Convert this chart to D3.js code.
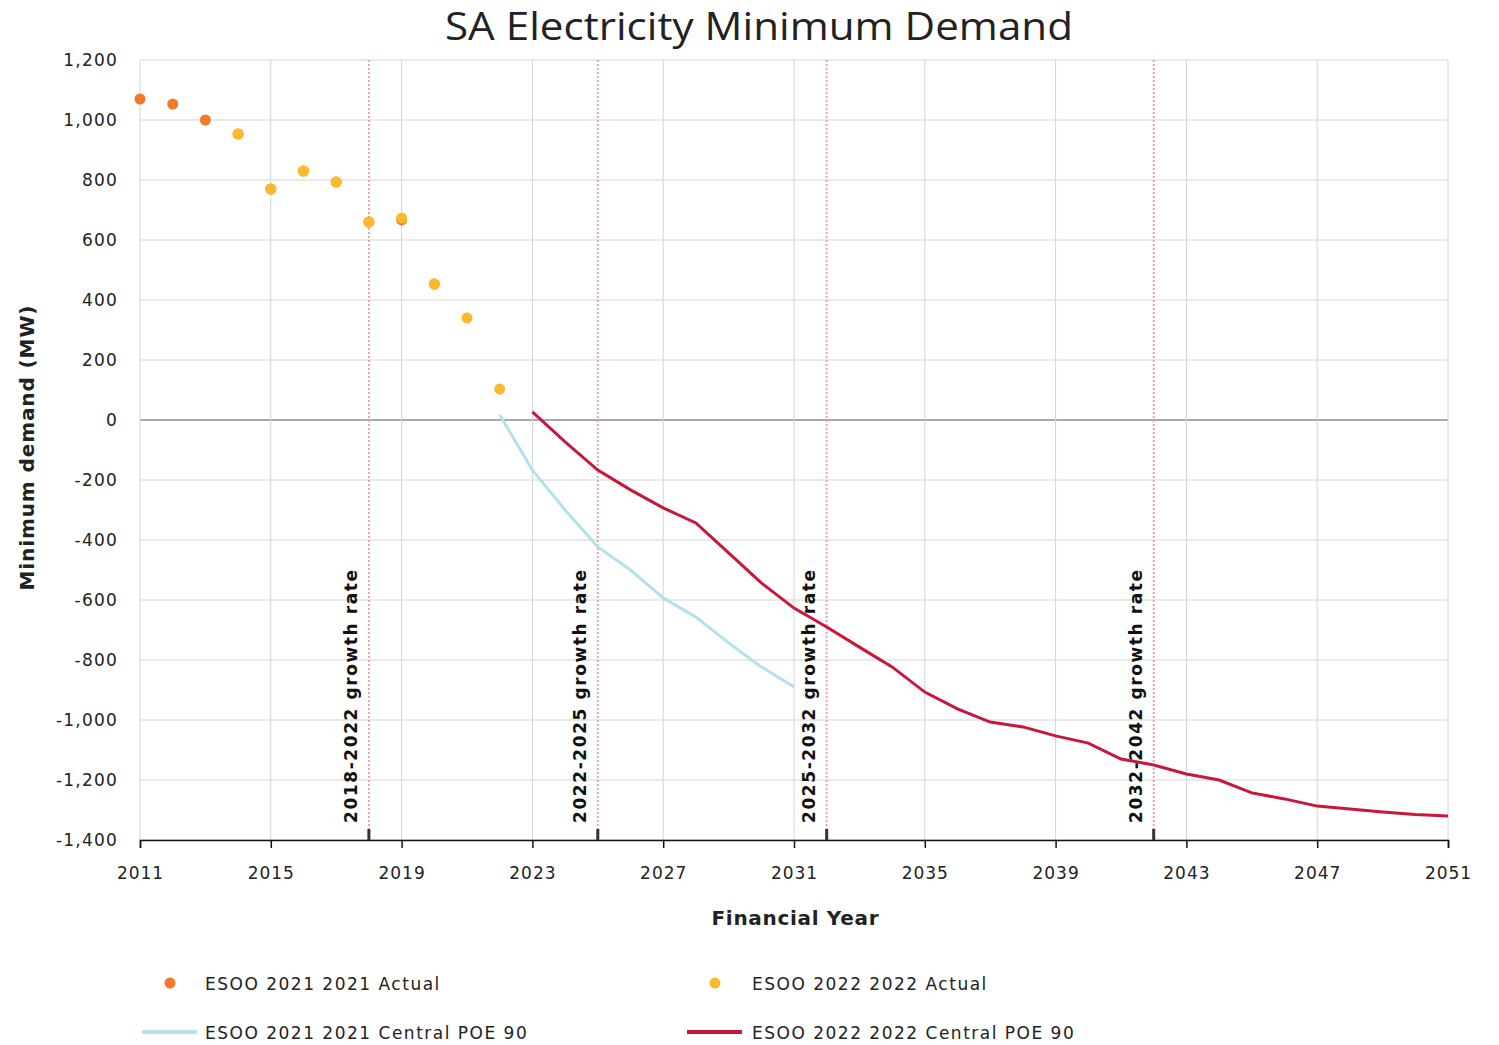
<!DOCTYPE html>
<html>
<head>
<meta charset="utf-8">
<script src="https://cdn.jsdelivr.net/npm/d3@7"></script>
<style>
  body { margin: 0; background: #fff; }
  text { font-family: "DejaVu Sans", Verdana, sans-serif; fill: #222; }
</style>
</head>
<body>
<div id="myChart"></div>
<script>
let width = 1499
let height = 1045

// data
const actual2021Years = [2011, 2012, 2013, 2014, 2015, 2016, 2017, 2018, 2019, 2020]
const actual2021 = [1070, 1053, 1000, 953, 770, 830, 793, 660, 667, 453]
const actual2022Years = [2014, 2015, 2016, 2017, 2018, 2019, 2020, 2021, 2022]
const actual2022 = [953, 770, 830, 793, 660, 673, 453, 340, 103]
const central2021Years = [2022, 2023, 2024, 2025, 2026, 2027, 2028, 2029, 2030, 2031]
const central2021 = [17, -167, -300, -423, -500, -593, -657, -743, -823, -890]
const central2022Years = d3.range(2023, 2052)
const central2022 = [27, -73, -167, -233, -293, -343, -443, -543, -627, -690,
  -757, -823, -907, -963, -1007, -1023, -1053, -1077, -1130, -1150,
  -1180, -1200, -1243, -1263, -1287, -1297, -1307, -1315, -1320]
const growthYears = [2018, 2025, 2032, 2042]
const growthLabels = ["2018-2022 growth rate", "2022-2025 growth rate", "2025-2032 growth rate", "2032-2042 growth rate"]
const xTicks = d3.range(2011, 2052, 4)
const yTicks = d3.range(-1400, 1201, 200)
const seriesNames = ["ESOO 2021 2021 Actual", "ESOO 2022 2022 Actual", "ESOO 2021 2021 Central POE 90", "ESOO 2022 2022 Central POE 90"]

const orange = "#f47a2b"
const yellow = "#fdb92a"
const blue = "#b3e2ec"
const red = "#c8173a"

let x = d3.scaleLinear().domain([2011, 2051]).range([140, 1448])
let y = d3.scaleLinear().domain([-1400, 1200]).range([840, 60])

let svg = d3.select("#myChart")
  .append("svg")
  .attr("width", width)
  .attr("height", height)

// title
svg.append("text")
  .attr("x", 759)
  .attr("y", 40)
  .attr("text-anchor", "middle")
  .style("font-family", "'Open Sans', sans-serif")
  .style("font-size", "38px")
  .attr("textLength", 628)
  .attr("lengthAdjust", "spacingAndGlyphs")
  .text("SA Electricity Minimum Demand")

// grid
let grid = svg.append("g")
grid.selectAll(".hg")
  .data(yTicks)
  .enter().append("line")
  .attr("x1", 140).attr("x2", 1448)
  .attr("y1", d => y(d)).attr("y2", d => y(d))
  .style("stroke", d => d == 0 ? "#8c8c8c" : "#d4d4d4")
  .style("stroke-width", d => d == 0 ? 1.5 : 1)
grid.selectAll(".vg")
  .data(xTicks)
  .enter().append("line")
  .attr("x1", d => x(d)).attr("x2", d => x(d))
  .attr("y1", 60).attr("y2", 840)
  .style("stroke", "#d4d4d4")

// y tick labels
svg.append("g").selectAll("text")
  .data(yTicks)
  .enter().append("text")
  .attr("x", 118)
  .attr("y", d => y(d) + 6)
  .attr("text-anchor", "end")
  .style("font-size", "17px")
  .style("letter-spacing", "1.2px")
  .text(d => d3.format(",")(d).replace("−", "-"))

// x axis
let xAxis = svg.append("g")
  .attr("transform", "translate(0,840)")
  .call(d3.axisBottom(x).tickValues(xTicks).tickFormat(d3.format("d")).tickSizeOuter(0).tickSize(8))
xAxis.select(".domain").style("stroke", "#111").style("stroke-width", 1.5)
xAxis.selectAll(".tick line").style("stroke", "#111").style("stroke-width", 1.5)
xAxis.selectAll(".tick text")
  .attr("y", 27)
  .attr("dy", "0.71em")
  .style("font-family", "'DejaVu Sans', sans-serif")
  .style("font-size", "17px")
  .style("letter-spacing", "1px")
  .style("fill", "#222")

// axis titles
svg.append("text")
  .attr("x", 795)
  .attr("y", 925)
  .attr("text-anchor", "middle")
  .style("font-size", "20px")
  .style("font-weight", "bold")
  .attr("textLength", 167)
  .text("Financial Year")

svg.append("text")
  .attr("transform", "translate(34,448) rotate(-90)")
  .attr("text-anchor", "middle")
  .style("font-size", "20px")
  .style("font-weight", "bold")
  .attr("textLength", 285)
  .text("Minimum demand (MW)")

// growth rate markers
let marks = svg.append("g")
marks.selectAll("line.dot")
  .data(growthYears)
  .enter().append("line")
  .attr("x1", d => x(d)).attr("x2", d => x(d))
  .attr("y1", 60).attr("y2", 840)
  .style("stroke", "#f0a0aa")
  .style("stroke-width", 2)
  .style("stroke-dasharray", "2,2")
marks.selectAll("line.tk")
  .data(growthYears)
  .enter().append("line")
  .attr("x1", d => x(d)).attr("x2", d => x(d))
  .attr("y1", 829).attr("y2", 840)
  .style("stroke", "#333")
  .style("stroke-width", 3)

// lines
let line = d3.line()
  .x(d => x(d[0]))
  .y(d => y(d[1]))

svg.append("path")
  .datum(d3.zip(central2021Years, central2021))
  .attr("d", line)
  .style("fill", "none")
  .style("stroke", blue)
  .style("stroke-width", 3)

svg.append("path")
  .datum(d3.zip(central2022Years, central2022))
  .attr("d", line)
  .style("fill", "none")
  .style("stroke", red)
  .style("stroke-width", 3)

// dots
svg.append("g").selectAll("circle")
  .data(d3.zip(actual2021Years, actual2021))
  .enter().append("circle")
  .attr("cx", d => x(d[0]))
  .attr("cy", d => y(d[1]))
  .attr("r", 5.5)
  .attr("fill", orange)

svg.append("g").selectAll("circle")
  .data(d3.zip(actual2022Years, actual2022))
  .enter().append("circle")
  .attr("cx", d => x(d[0]))
  .attr("cy", d => y(d[1]))
  .attr("r", 5.5)
  .attr("fill", yellow)

// growth labels (drawn on top)
marks.selectAll("text")
  .data(growthYears)
  .enter().append("text")
  .attr("transform", d => "translate(" + (x(d) - 12) + ",823) rotate(-90)")
  .style("font-size", "17px")
  .style("font-weight", "bold")
  .style("fill", "#111")
  .attr("textLength", 253)
  .text((d, i) => growthLabels[i])

// legend
let legend = svg.append("g")
let legendPos = [[170, 983], [715, 983], [170, 1032], [715, 1032]]
let legendColor = [orange, yellow, blue, red]

legend.selectAll("circle")
  .data([0, 1])
  .enter().append("circle")
  .attr("cx", i => legendPos[i][0])
  .attr("cy", i => legendPos[i][1])
  .attr("r", 5.5)
  .attr("fill", i => legendColor[i])

legend.selectAll("line")
  .data([2, 3])
  .enter().append("line")
  .attr("x1", i => legendPos[i][0] - 28)
  .attr("x2", i => legendPos[i][0] + 27)
  .attr("y1", i => legendPos[i][1])
  .attr("y2", i => legendPos[i][1])
  .style("stroke", i => legendColor[i])
  .style("stroke-width", 4)

legend.selectAll("text")
  .data([0, 1, 2, 3])
  .enter().append("text")
  .attr("x", i => legendPos[i][0] + 35 + (i % 2 == 1 ? 2 : 0))
  .attr("y", i => legendPos[i][1] + 7)
  .style("font-size", "17px")
  .style("letter-spacing", "1.5px")
  .text(i => seriesNames[i])
</script>
</body>
</html>
